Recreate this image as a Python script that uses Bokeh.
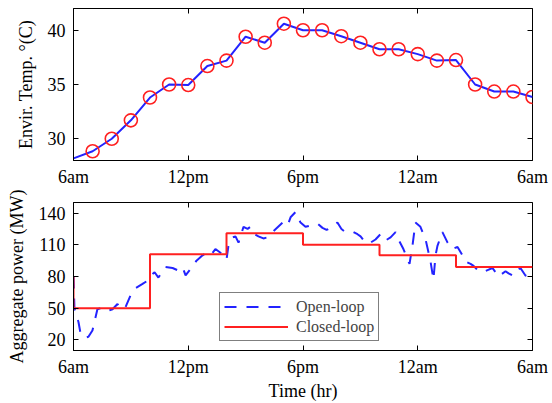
from bokeh.plotting import figure
from bokeh.layouts import column
from bokeh.models import FixedTicker, LinearAxis, Range1d, Legend, LegendItem
from bokeh.embed import file_html
from bokeh.resources import INLINE

FONT = "Liberation Serif"

# ---------------- data ----------------
tick_hours = [0, 6, 12, 18, 24]
tick_labels = ["6am", "12pm", "6pm", "12am", "6am"]

temp_hours = list(range(25))
temp_values = [28.2, 28.85, 30.0, 31.7, 33.8, 35.0, 34.95, 36.7, 37.2, 39.4,
               38.85, 40.6, 40.0, 40.0, 39.45, 38.85, 38.25, 38.25, 37.8, 37.2,
               37.25, 35.0, 34.35, 34.35, 33.85]

open_hours = [0.0, 0.05, 0.26, 0.37, 0.58, 0.78, 0.99, 1.25, 1.41, 1.73, 2.04, 2.30,
              2.51, 2.72, 2.98, 3.24, 3.61, 3.87, 4.03, 4.24, 4.44, 4.81, 5.18, 5.44,
              5.70, 5.86, 6.12, 6.43, 6.75, 7.01, 7.22, 7.42, 7.79, 8.0, 8.10, 8.31,
              8.47, 8.63, 8.89, 9.10, 9.25, 9.46, 9.67, 9.93, 10.14, 10.46, 10.93,
              11.19, 11.35, 11.61, 11.87, 12.13, 12.55, 12.76, 13.02, 13.23, 13.44,
              13.80, 14.01, 14.22, 14.64, 14.85, 15.01, 15.27, 15.53, 15.79, 16.05,
              16.31, 16.58, 16.84, 16.99, 17.25, 17.46, 17.57, 17.73, 17.88, 18.14,
              18.41, 18.56, 18.67, 18.82, 18.93, 19.03, 19.29, 19.56, 19.82, 20.08,
              20.34, 20.50, 20.76, 20.92, 21.13, 21.39, 21.65, 21.91, 22.22, 22.59,
              22.75, 22.95, 23.11, 23.37, 23.63, 23.79, 24.0]
open_power = [80, 50, 37, 26, 22, 23, 29, 49, 50, 47, 49, 54,
              49, 51, 62, 69, 73, 76, 81, 84, 79, 89, 88, 86,
              89, 81, 87, 95, 100, 103, 101, 106, 101, 96, 109, 117,
              118, 112, 127, 125, 127, 120, 118, 116, 117, 123, 131,
              128, 136, 141, 131, 127, 129, 130, 126, 124, 126,
              131, 125, 122, 122, 120, 118, 112, 112, 115, 120,
              114, 117, 122, 115, 106, 97, 92, 110, 131, 127,
              115, 103, 94, 77, 100, 109, 122, 112, 106, 108,
              100, 94, 92, 90, 86, 84, 86, 88, 80, 85,
              83, 81, 86, 88, 81, 80, 80]

closed_block_start = [0, 4, 8, 12, 16, 20, 24]
closed_levels = [50, 101, 121, 110, 100, 89, 89]
closed_initial = 80

TICK_FS = "18px"
LABEL_FS = "18px"


def style(p, yticks):
    p.grid.visible = False
    p.outline_line_color = "black"
    p.outline_line_width = 1
    p.background_fill_color = "white"
    p.border_fill_color = "white"
    bottom = p.below[0]
    left = p.left[0]
    bottom.ticker = FixedTicker(ticks=tick_hours)
    bottom.major_label_overrides = {h: l for h, l in zip(tick_hours, tick_labels)}
    left.ticker = FixedTicker(ticks=yticks)
    for ax in (bottom, left):
        ax.major_tick_in = 5
        ax.major_tick_out = 0
        ax.minor_tick_line_color = None
        ax.axis_line_color = "black"
        ax.major_label_text_font = FONT
        ax.major_label_text_font_size = TICK_FS
        ax.major_label_text_color = "black"
        ax.axis_label_text_font = FONT
        ax.axis_label_text_font_size = LABEL_FS
        ax.axis_label_text_font_style = "normal"
        ax.axis_label_text_color = "black"
    bottom.major_label_standoff = 6
    left.major_label_standoff = 8
    left.axis_label_standoff = 9
    # mirrored ticks on top and right (no labels)
    top = LinearAxis(ticker=FixedTicker(ticks=tick_hours),
                     major_label_overrides={h: "" for h in tick_hours})
    right = LinearAxis(ticker=FixedTicker(ticks=yticks),
                       major_label_overrides={v: "" for v in yticks})
    for ax in (top, right):
        ax.major_tick_in = 5
        ax.major_tick_out = 0
        ax.minor_tick_line_color = None
        ax.axis_line_color = None
        ax.major_label_standoff = 0
    p.add_layout(top, "above")
    p.add_layout(right, "right")
    return bottom, left


# ---------------- top: temperature ----------------
p1 = figure(width=552, height=190, x_range=Range1d(0, 24), y_range=Range1d(28, 42),
            output_backend="svg", toolbar_location=None,
            min_border_left=73, min_border_right=20, min_border_top=8, min_border_bottom=30)
b1, l1 = style(p1, [30, 35, 40])
l1.axis_label = "Envir. Temp. °(C)"
p1.line(temp_hours, temp_values, line_color="#2323ff", line_width=2)
p1.scatter(temp_hours[1:], temp_values[1:], marker="circle", size=13,
           fill_color=None, line_color="#ff2020", line_width=1.6)

# ---------------- bottom: power ----------------
p2 = figure(width=552, height=213, x_range=Range1d(0, 24), y_range=Range1d(10, 150),
            output_backend="svg", toolbar_location=None,
            min_border_left=73, min_border_right=20, min_border_top=12, min_border_bottom=49)
b2, l2 = style(p2, [20, 50, 80, 110, 140])
l2.axis_label = "Aggregate power (MW)"
b2.axis_label = "Time (hr)"
b2.axis_label_standoff = 1

r_open = p2.line(open_hours, open_power, line_color="#2323ff", line_width=2,
                 line_dash="12 10")
r_closed = p2.step([0] + closed_block_start, [closed_initial] + closed_levels,
                   mode="after", line_color="#ff2020", line_width=2)

legend = Legend(items=[LegendItem(label="Open-loop", renderers=[r_open]),
                       LegendItem(label="Closed-loop", renderers=[r_closed])],
                location=(146, 9))
legend.label_text_font = FONT
legend.label_text_font_size = "16px"
legend.border_line_color = "black"
legend.border_line_width = 1
legend.glyph_width = 64
legend.glyph_height = 19
legend.label_height = 19
legend.label_standoff = 8
legend.spacing = 1
legend.padding = 4
legend.margin = 0
legend.background_fill_alpha = 1
p2.add_layout(legend, "center")

layout = column(p1, p2, spacing=0)
open("out.html", "w").write(file_html(layout, INLINE))
